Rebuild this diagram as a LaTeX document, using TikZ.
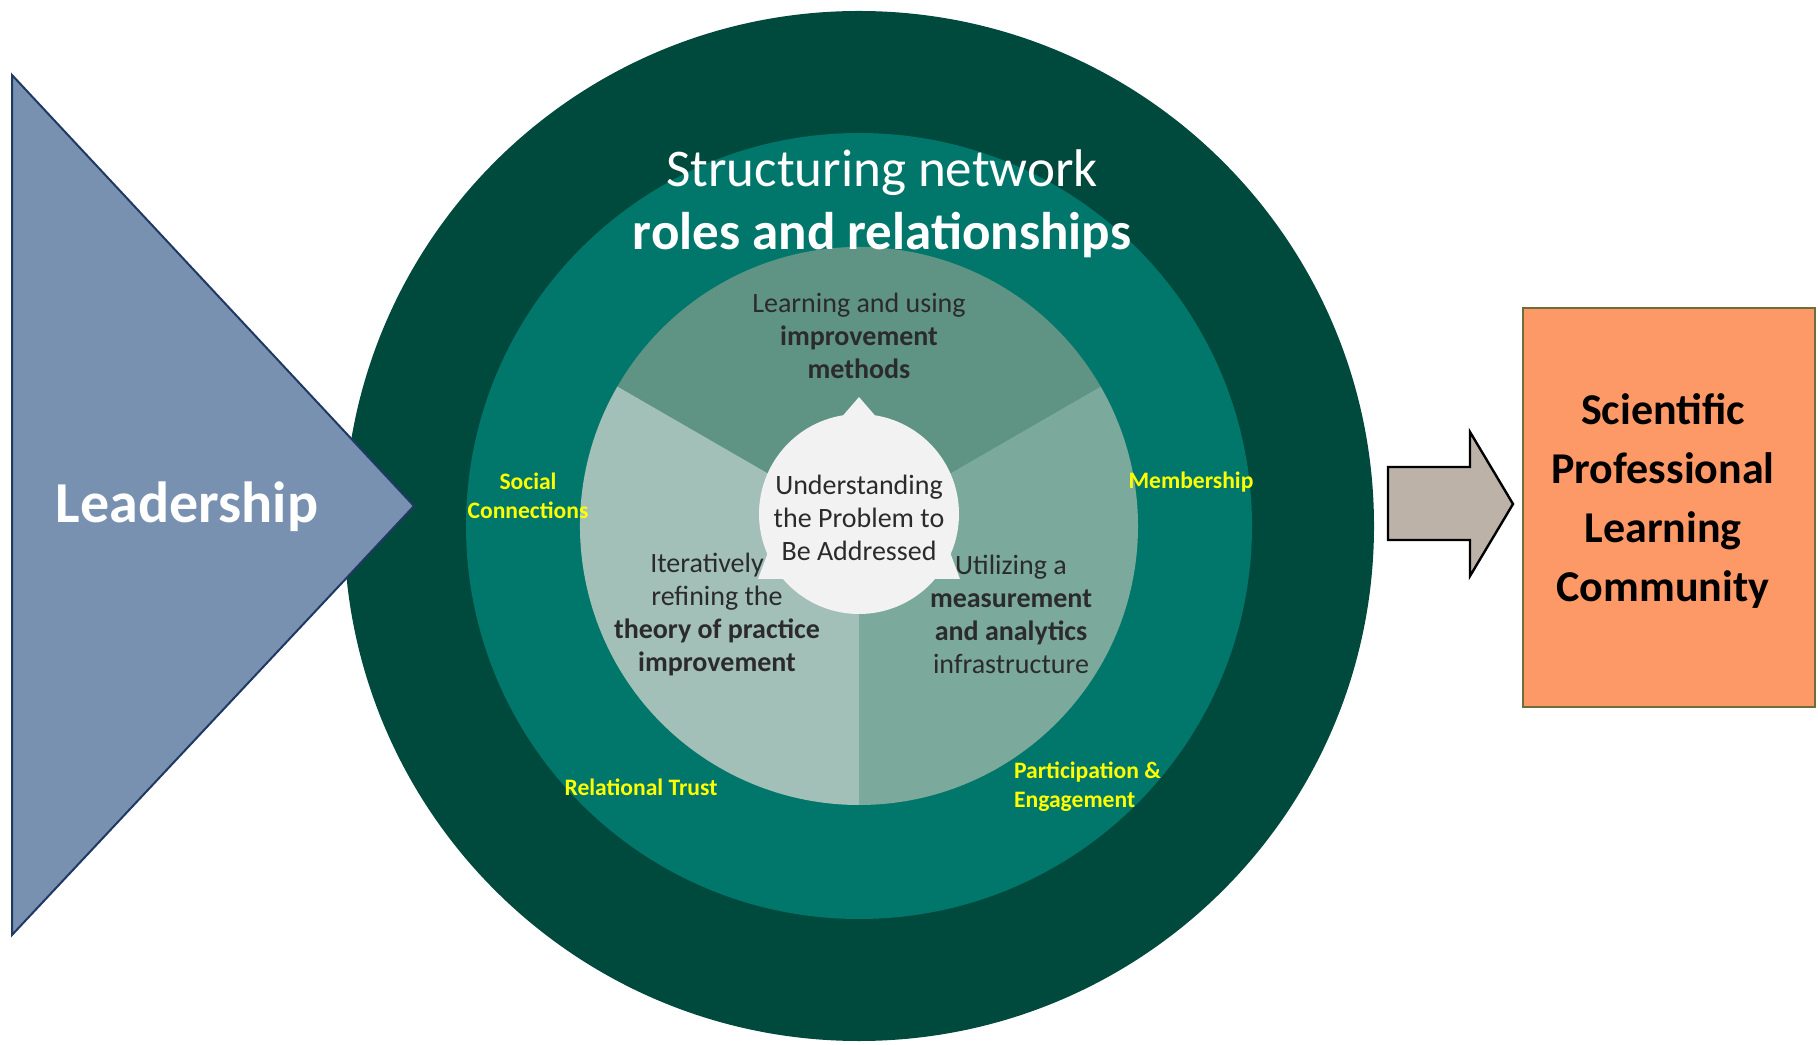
\documentclass[tikz,border=0pt]{standalone}
\usepackage{fontspec}
\setmainfont{Carlito}
\usetikzlibrary{positioning}

\definecolor{outerring}{HTML}{00493D}
\definecolor{midring}{HTML}{00776A}
\definecolor{topsector}{HTML}{5F9384}
\definecolor{leftsector}{HTML}{A2C0B8}
\definecolor{rightsector}{HTML}{7BA99C}
\definecolor{hubwhite}{HTML}{F2F2F2}
\definecolor{pietext}{HTML}{2B2B2B}
\definecolor{leadblue}{HTML}{7891B0}
\definecolor{leadline}{HTML}{1F3864}
\definecolor{arrowfill}{HTML}{BCB2A7}
\definecolor{plcfill}{HTML}{FD9966}
\definecolor{plcline}{HTML}{6E6E3C}
\definecolor{bondyellow}{HTML}{FFFF00}

\begin{document}
\begin{tikzpicture}[x=0.5pt, y=0.5pt,
	Ring/.style={text=white, align=center, font=\fontsize{26.5}{31.5}\selectfont},
	Sector/.style={text=pietext, align=center, font=\fontsize{14}{16.5}\selectfont},
	Bond/.style={text=bondyellow, align=center, font=\bfseries\fontsize{11.8}{14.5}\selectfont},
	]

	\useasboundingbox (0,0) rectangle (1818,1044);
	\fill[white] (0,0) rectangle (1818,1044);

	% rings and pie
	\coordinate (C) at (859,518);
	\fill[outerring] (C) circle (515);
	\fill[midring] (C) circle (393);
	\fill[topsector] (C) -- ++(30:279) arc (30:150:279) -- cycle;
	\fill[leftsector] (C) -- ++(150:279) arc (150:270:279) -- cycle;
	\fill[rightsector] (C) -- ++(270:279) arc (270:390:279) -- cycle;

	% hub
	\coordinate (H) at (859,530);
	\fill[hubwhite] (H) circle (100);
	\fill[hubwhite] (840,625) -- (859,647) -- (878,625) -- cycle;
	\fill[hubwhite] (758,465) -- (792,465) -- (770,497) -- cycle;
	\fill[hubwhite] (960,465) -- (926,465) -- (948,497) -- cycle;

	\node[Ring] (Structuring) at (882,840) {Structuring network\\\textbf{roles and relationships}};

	\node[Sector] (Methods)   at (859,708)  {Learning and using\\\textbf{improvement}\\\textbf{methods}};
	\node[Sector] (Problem)   at (859,526)  {Understanding\\the Problem to\\Be Addressed};
	\node[Sector] (Theory)    at (717,430)  {Iteratively\hspace*{10pt}\\refining the\hspace*{10pt}\\\textbf{theory of practice}\\\textbf{improvement}};
	\node[Sector] (Analytics) at (1011,430) {Utilizing a\\\textbf{measurement}\\\textbf{and analytics}\\infrastructure};

	\node[Bond] (Social)     at (528,548)  {Social\\Connections};
	\node[Bond] (Membership) at (1191,562) {Membership};
	\node[Bond] (Trust)      at (641,257)  {Relational Trust};
	\node[Bond, align=left, anchor=west] (Participation) at (1007,257) {Participation \&\\Engagement};

	% leadership wedge
	\draw[leadline, fill=leadblue, line width=1pt] (12,969) -- (414,538) -- (12,109) -- cycle;
	\node[text=white, font=\bfseries\fontsize{29}{34}\selectfont] (Leadership) at (187,537) {Leadership};

	% block arrow
	\draw[black, fill=arrowfill, line width=1.2pt, line join=miter]
		(1388,577) -- (1470,577) -- (1470,612) -- (1513,540) -- (1470,468) -- (1470,504) -- (1388,504) -- cycle;

	\node[draw=plcline, fill=plcfill, line width=1.2pt, minimum width=146pt, minimum height=199.5pt] (PLC) at (1669,536.5) {};
	\node[align=center, font=\bfseries\fontsize{22}{29.5}\selectfont] (PLCtext) at (1663,543) {Scientific\\Professional\\Learning\\Community};

\end{tikzpicture}
\end{document}
